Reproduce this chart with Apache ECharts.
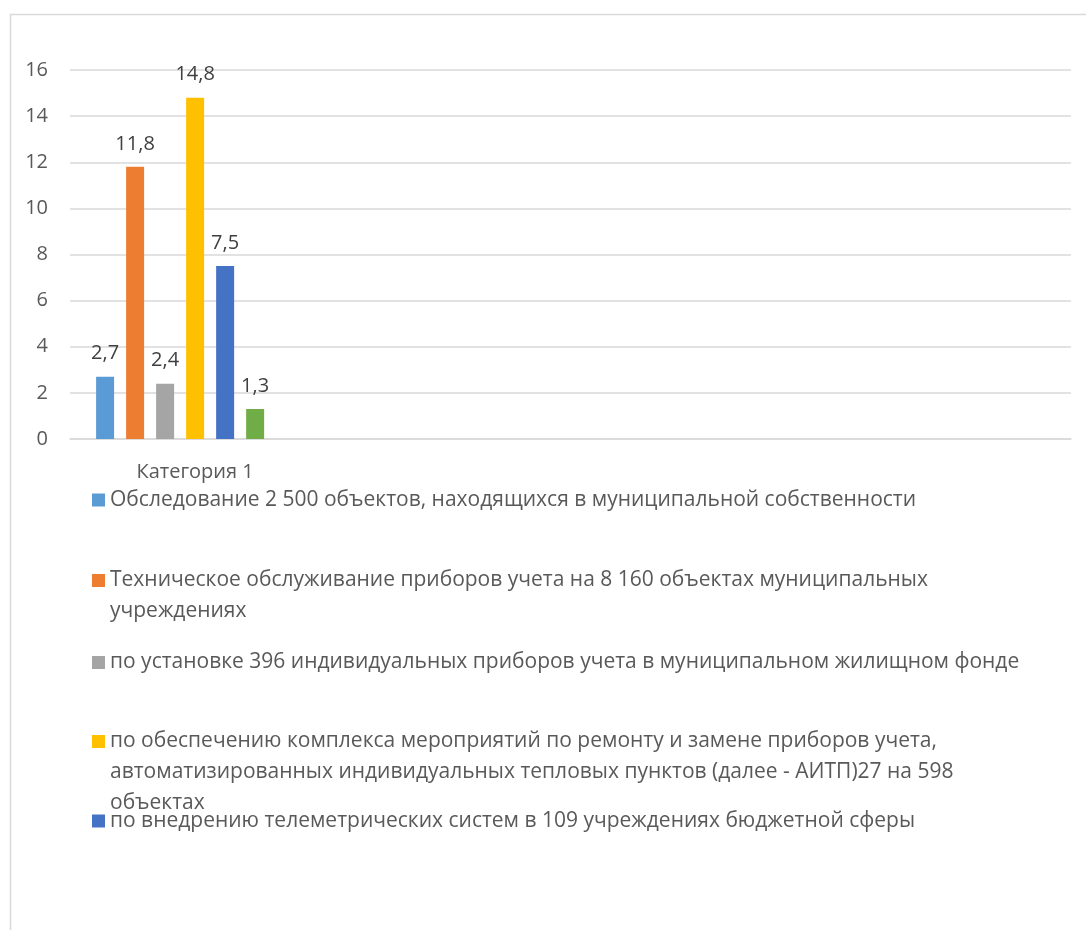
<!DOCTYPE html>
<html>
<head>
<meta charset="utf-8">
<script src="https://cdn.jsdelivr.net/npm/echarts@6/dist/echarts.min.js"></script>
<style>
html,body{margin:0;padding:0;background:#fff;}
#chart{width:1086px;height:930px;}
</style>
</head>
<body>
<div id="chart"></div>
<script>
// ---- data ----
const categories = ['Категория 1', '', '', ''];
const seriesNames = [
  'Обследование 2 500 объектов, находящихся в муниципальной собственности',
  'Техническое обслуживание приборов учета на 8 160 объектах муниципальных учреждениях',
  'по установке 396 индивидуальных приборов учета в муниципальном жилищном фонде',
  'по обеспечению комплекса мероприятий по ремонту и замене приборов учета, автоматизированных индивидуальных тепловых пунктов (далее - АИТП)27 на 598 объектах',
  'по внедрению телеметрических систем в 109 учреждениях бюджетной сферы',
  'Ряд 6'
];
const seriesValues = [2.7, 11.8, 2.4, 14.8, 7.5, 1.3];
const legendLines = [
  ['Обследование 2 500 объектов, находящихся в муниципальной собственности'],
  ['Техническое обслуживание приборов учета на 8 160 объектах муниципальных', 'учреждениях'],
  ['по установке 396 индивидуальных приборов учета в муниципальном жилищном фонде'],
  ['по обеспечению комплекса мероприятий по ремонту и замене приборов учета,', 'автоматизированных индивидуальных тепловых пунктов (далее - АИТП)27 на 598', 'объектах'],
  ['по внедрению телеметрических систем в 109 учреждениях бюджетной сферы']
];
const colors = ['#5b9bd5', '#ed7d31', '#a5a5a5', '#ffc000', '#4472c4', '#70ad47'];
const yTicks = {min: 0, max: 16, interval: 2};

// ---- layout helpers ----
const FONT = 'Open Sans';
const LH = 31;
const iconCenters = [500, 580.5, 662.5, 741.5, 821];

const series = seriesNames.map((name, i) => ({
  name: name,
  type: 'bar',
  data: [seriesValues[i]],
  barWidth: 18,
  barGap: '66.7%',
  itemStyle: {color: colors[i]},
  label: {
    show: true,
    position: 'top',
    distance: 13,
    fontFamily: FONT,
    fontSize: 20,
    color: '#404040',
    formatter: p => String(p.value).replace('.', ',')
  }
}));
// empty layout slot (Excel reserves room at the end of the cluster)
series.push({name: '', type: 'bar', data: [], barWidth: 18, barGap: '66.7%', silent: true});

const legends = legendLines.map((lines, i) => {
  const n = lines.length;
  return {
    orient: 'vertical',
    left: 92,
    top: iconCenters[i] - (2 * n - 1) * LH / 2,
    padding: 0,
    itemWidth: 13,
    itemHeight: 13,
    icon: 'rect',
    selectedMode: false,
    data: [seriesNames[i]],
    // leading blank lines keep the icon level with the first text line
    formatter: () => '\n'.repeat(n - 1) + lines.join('\n'),
    textStyle: {
      fontFamily: FONT,
      fontSize: 21,
      color: '#595959',
      lineHeight: LH
    }
  };
});

const chart = echarts.init(document.getElementById('chart'), null, {renderer: 'canvas'});
chart.setOption({
  animation: false,
  backgroundColor: '#fff',
  graphic: [{
    type: 'rect',
    left: 8, top: 12,
    shape: {width: 1200, height: 1000},
    style: {fill: 'none', stroke: '#d9d9d9', lineWidth: 1.5},
    silent: true
  }],
  grid: {left: 70, right: 15, top: 70, bottom: 491, containLabel: false},
  legend: legends,
  xAxis: {
    type: 'category',
    data: categories,
    axisTick: {show: false},
    axisLine: {lineStyle: {color: '#d9d9d9', width: 1.5}},
    axisLabel: {fontFamily: FONT, fontSize: 20, color: '#595959', margin: 23, interval: 0}
  },
  yAxis: {
    type: 'value',
    min: yTicks.min, max: yTicks.max, interval: yTicks.interval,
    axisLine: {show: false},
    axisTick: {show: false},
    splitLine: {lineStyle: {color: '#d9d9d9', width: 1.5}},
    axisLabel: {fontFamily: FONT, fontSize: 20, color: '#595959', margin: 22}
  },
  series: series
});
</script>
</body>
</html>
